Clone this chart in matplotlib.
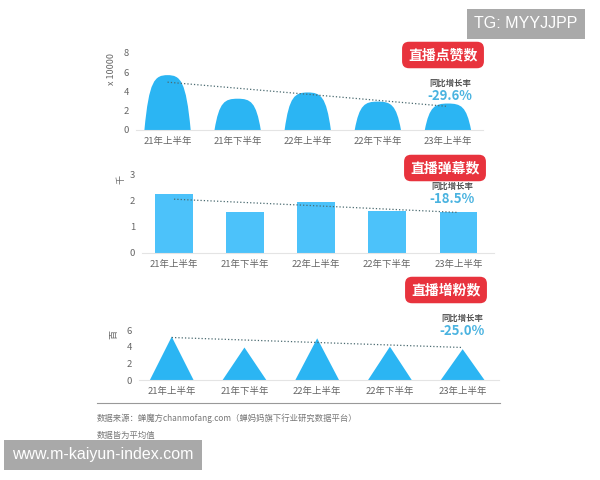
import matplotlib.pyplot as plt
from matplotlib.path import Path
from matplotlib.patches import PathPatch, Polygon

plt.rcParams['font.family'] = ['Noto Sans CJK SC', 'DejaVu Sans']

periods = ["21年上半年", "21年下半年", "22年上半年", "22年下半年", "23年上半年"]
likes = [5.7, 3.25, 3.9, 2.95, 2.75]        # x 10000
likes_trend = [4.97, 2.45]
danmu = [2.27, 1.56, 1.95, 1.61, 1.58]       # 千
danmu_trend = [2.07, 1.56]
fans = [5.2, 3.9, 5.0, 4.0, 3.7]             # 百
fans_trend = [5.1, 3.9]

titles = ["直播点赞数", "直播弹幕数", "直播增粉数"]
growth = ["-29.6%", "-18.5%", "-25.0%"]
units = ["x 10000", "千", "百"]

BLUE = '#2BB5F3'
BLUE2 = '#4CC2FA'
RED = '#E8333D'
TEAL = '#4AB3E0'
GRAY = '#666666'

W, H = 600, 480
fig = plt.figure(figsize=(6, 4.8), dpi=100)
fig.patch.set_facecolor('white')


def make_ax(left, right, top, bottom):
    return fig.add_axes([left / W, 1 - bottom / H, (right - left) / W, (bottom - top) / H])


def style(ax, ymax, yticks, unit, ylab_x):
    ax.set_xlim(-0.45, 4.5)
    ax.set_ylim(0, ymax)
    ax.set_yticks(yticks)
    ax.set_xticks(range(len(periods)))
    ax.set_xticklabels(periods)
    for s in ['top', 'right', 'left']:
        ax.spines[s].set_visible(False)
    ax.spines['bottom'].set_color('#e4e4e4')
    ax.spines['bottom'].set_linewidth(0.8)
    ax.tick_params(length=0, labelsize=6.8, colors=GRAY, pad=5)
    ax.patch.set_alpha(0)
    ax.text(ylab_x, 1.0, unit, transform=ax.transAxes, rotation=90,
            ha='center', va='top', fontsize=6.5, color=GRAY)


def hump(x, h, w=0.66):
    l, r = x - w / 2, x + w / 2
    verts = [(l, 0), (l + 0.1 * w, 0.9 * h), (x - 0.28 * w, h), (x, h),
             (x + 0.28 * w, h), (r - 0.1 * w, 0.9 * h), (r, 0), (l, 0)]
    codes = [Path.MOVETO, Path.CURVE4, Path.CURVE4, Path.CURVE4,
             Path.CURVE4, Path.CURVE4, Path.CURVE4, Path.CLOSEPOLY]
    return PathPatch(Path(verts, codes), facecolor=BLUE, edgecolor='none')


# panel 1: likes
ax1 = make_ax(136, 483, 53, 130)
for i, v in enumerate(likes):
    ax1.add_patch(hump(i, v))
ax1.plot([0, 4], likes_trend, ls=':', color='#4a6a70', lw=0.9)
style(ax1, 8, [0, 2, 4, 6, 8], units[0], -0.07)

# panel 2: danmu
ax2 = make_ax(142, 494, 175, 253)
ax2.bar(range(len(danmu)), danmu, width=0.53, color=BLUE2)
ax2.plot([0, 4], danmu_trend, ls=':', color='#4a6a70', lw=0.9)
style(ax2, 3, [0, 1, 2, 3], units[1], -0.06)

# panel 3: fans
ax3 = make_ax(139, 499, 330, 380)
for i, v in enumerate(fans):
    ax3.add_patch(Polygon([(i - 0.3, 0), (i, v), (i + 0.3, 0)], closed=True,
                          facecolor=BLUE, edgecolor='none'))
ax3.plot([0, 4], fans_trend, ls=':', color='#4a6a70', lw=0.9)
style(ax3, 6, [0, 2, 4, 6], units[2], -0.07)

# badges and growth labels
badge_pos = [(443, 55), (445, 168), (446, 290)]
growth_pos = [(450, 83), (452, 186), (462, 318)]
for t, (bx, by), g, (gx, gy) in zip(titles, badge_pos, growth, growth_pos):
    fig.text(bx / W, 1 - by / H, t, ha='center', va='center', fontsize=10,
             fontweight='bold', color='white',
             bbox=dict(boxstyle='round,pad=0.45,rounding_size=0.5', fc=RED, ec='none'))
    fig.text(gx / W, 1 - gy / H, "同比增长率", ha='center', va='center',
             fontsize=6, fontweight='bold', color='#555555')
    fig.text(gx / W, 1 - (gy + 13) / H, g, ha='center', va='center',
             fontsize=9.5, fontweight='bold', color=TEAL)

# footer
fig.add_artist(plt.Line2D([97 / W, 500 / W], [1 - 403 / H, 1 - 403 / H],
                          color='#999999', lw=0.8))
fig.text(97 / W, 1 - 418 / H, "数据来源：蝉魔方chanmofang.com（蝉妈妈旗下行业研究数据平台）",
         ha='left', va='center', fontsize=6, color='#777777')
fig.text(97 / W, 1 - 435 / H, "数据皆为平均值", ha='left', va='center',
         fontsize=6, color='#777777')

# watermarks
fig.text(526 / W, 1 - 24 / H, "TG: MYYJJPP", ha='center', va='center',
         fontsize=11.5, color='white', family=['Liberation Sans'],
         bbox=dict(boxstyle='square,pad=0.45', fc='#a9a9a9', ec='none'))
fig.text(103 / W, 1 - 455 / H, "www.m-kaiyun-index.com", ha='center', va='center',
         fontsize=11.5, color='white', family=['Liberation Sans'],
         bbox=dict(boxstyle='square,pad=0.5', fc='#a9a9a9', ec='none'))

fig.savefig('out.png', dpi=100, facecolor='white')
